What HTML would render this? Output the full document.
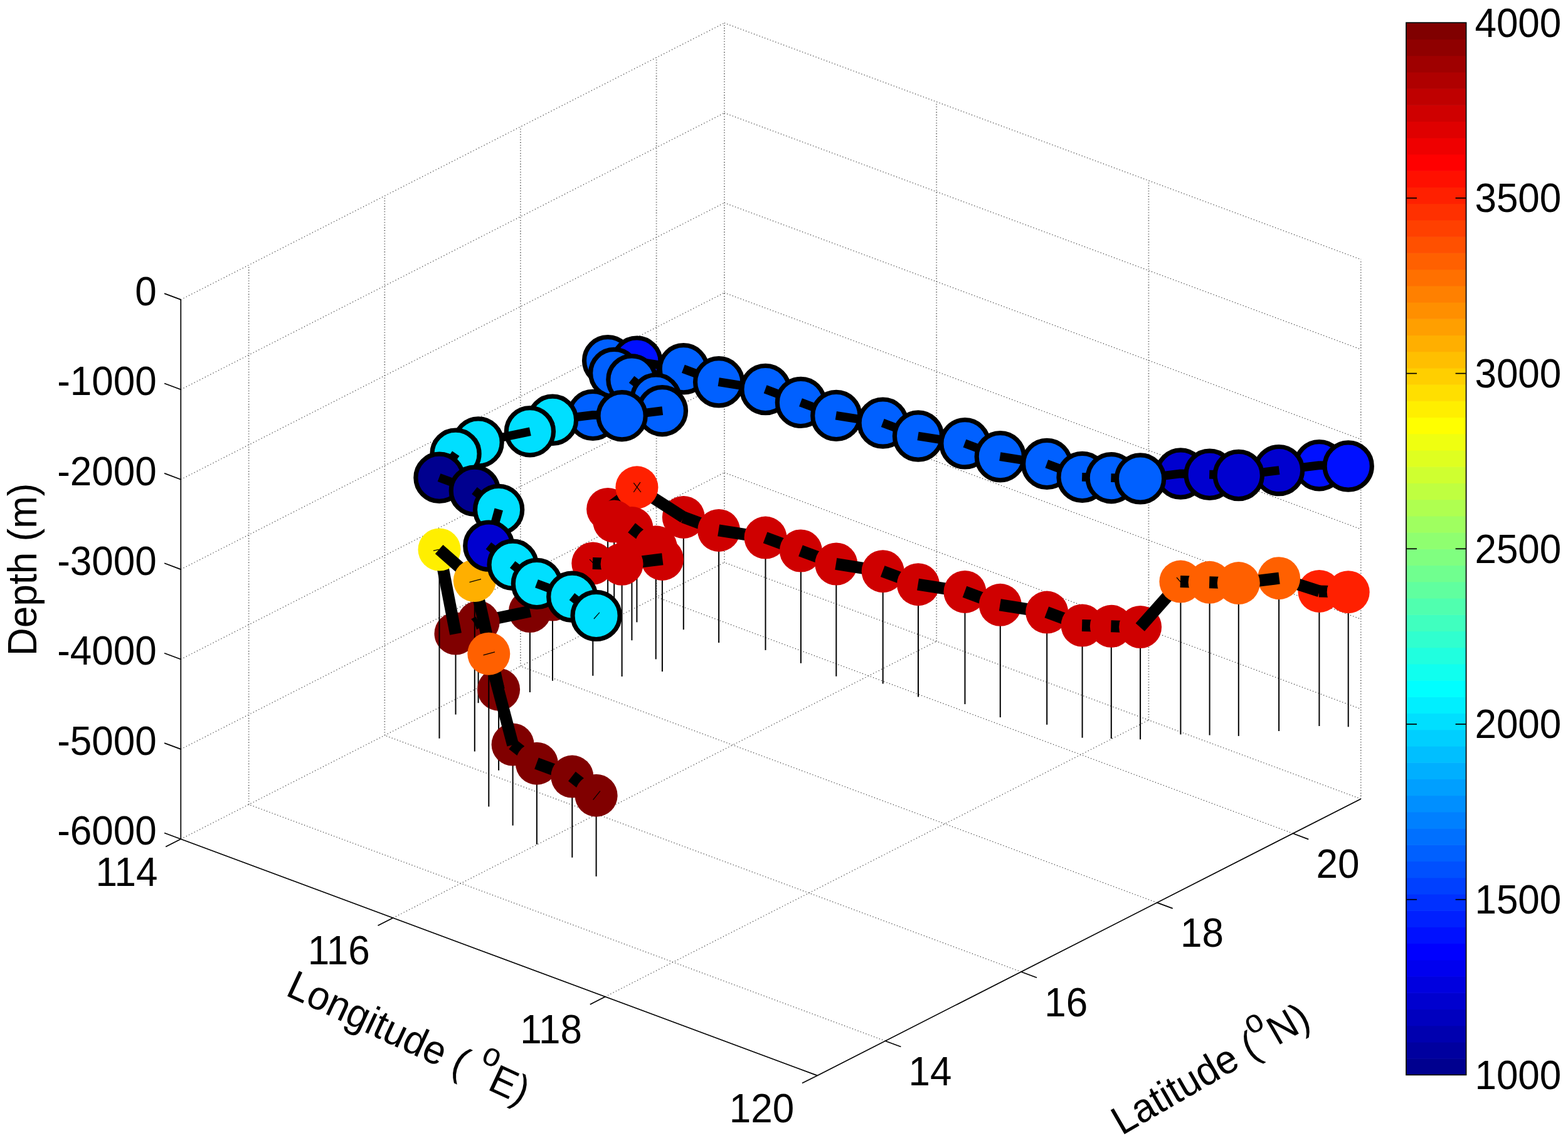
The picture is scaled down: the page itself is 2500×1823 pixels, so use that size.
<!DOCTYPE html>
<html lang="en"><head><meta charset="utf-8"><title>Depth trajectory plot</title>
<style>html,body{margin:0;padding:0;background:#fff}svg{display:block}text{font-family:"Liberation Sans",Arial,Helvetica,sans-serif;font-size:62px;fill:#000}.ax{stroke:#000;stroke-width:1.7;fill:none}.gv{stroke:#505050;stroke-width:1.8;fill:none;stroke-dasharray:1.05 3.23}.ga{stroke:#303030;stroke-width:1.3;fill:none;stroke-dasharray:1.1 3.47}.gb{stroke:#303030;stroke-width:1.3;fill:none;stroke-dasharray:1.1 3.70}.st{stroke:#000;stroke-width:2.0}.bar{stroke:#000;stroke-width:13.8;stroke-linecap:butt}.barl{stroke:#000;stroke-width:19.0;stroke-linecap:butt}.mu{stroke:#000;stroke-width:7.2}.mk{stroke:#000;stroke-width:1.2;fill:none}</style></head><body>
<svg xmlns="http://www.w3.org/2000/svg" width="2500" height="1823" viewBox="0 0 2500 1823">
<rect width="2500" height="1823" fill="#fff"/>
<g id="grid"><line x1="288.3" y1="1338.3" x2="1154.9" y2="897.1" class="gb"/><line x1="626.6" y1="1464.0" x2="1493.2" y2="1022.8" class="gb"/><line x1="964.8" y1="1589.7" x2="1831.4" y2="1148.5" class="gb"/><line x1="1411.4" y1="1660.2" x2="396.6" y2="1283.1" class="ga"/><line x1="1628.1" y1="1550.0" x2="613.3" y2="1172.8" class="ga"/><line x1="1844.7" y1="1439.7" x2="829.9" y2="1062.5" class="ga"/><line x1="2061.4" y1="1329.3" x2="1046.6" y2="952.2" class="ga"/><line x1="2169.7" y1="1274.2" x2="1154.9" y2="897.1" class="ga"/><line x1="396.6" y1="1283.1" x2="396.6" y2="422.7" class="gv"/><line x1="613.3" y1="1172.8" x2="613.3" y2="312.4" class="gv"/><line x1="829.9" y1="1062.5" x2="829.9" y2="202.1" class="gv"/><line x1="1046.6" y1="952.2" x2="1046.6" y2="91.8" class="gv"/><line x1="1154.9" y1="897.1" x2="1154.9" y2="36.7" class="gv"/><line x1="288.3" y1="1194.9" x2="1154.9" y2="753.7" class="gb"/><line x1="288.3" y1="1051.5" x2="1154.9" y2="610.3" class="gb"/><line x1="288.3" y1="908.1" x2="1154.9" y2="466.9" class="gb"/><line x1="288.3" y1="764.7" x2="1154.9" y2="323.5" class="gb"/><line x1="288.3" y1="621.3" x2="1154.9" y2="180.1" class="gb"/><line x1="288.3" y1="477.9" x2="1154.9" y2="36.7" class="gb"/><line x1="1493.2" y1="1022.8" x2="1493.2" y2="162.4" class="gv"/><line x1="1831.4" y1="1148.5" x2="1831.4" y2="288.1" class="gv"/><line x1="2169.7" y1="1274.2" x2="2169.7" y2="413.8" class="gv"/><line x1="1154.9" y1="753.7" x2="2169.7" y2="1130.8" class="ga"/><line x1="1154.9" y1="610.3" x2="2169.7" y2="987.4" class="ga"/><line x1="1154.9" y1="466.9" x2="2169.7" y2="844.0" class="ga"/><line x1="1154.9" y1="323.5" x2="2169.7" y2="700.6" class="ga"/><line x1="1154.9" y1="180.1" x2="2169.7" y2="557.2" class="ga"/><line x1="1154.9" y1="36.7" x2="2169.7" y2="413.8" class="ga"/></g>
<g id="data"><line x1="969.1" y1="811.9" x2="969.1" y2="991.2" class="st"/>
<line x1="1015.4" y1="777.3" x2="1015.4" y2="992.4" class="st"/>
<line x1="1089.8" y1="824.9" x2="1089.8" y2="1004.2" class="st"/>
<line x1="979.2" y1="831.6" x2="979.2" y2="1010.8" class="st"/>
<line x1="1007.4" y1="842.1" x2="1007.4" y2="1021.3" class="st"/>
<line x1="1146.1" y1="845.9" x2="1146.1" y2="1025.1" class="st"/>
<circle cx="969.1" cy="811.9" r="34.0" fill="#cf0000"/>
<line x1="1220.5" y1="857.6" x2="1220.5" y2="1036.9" class="st"/>
<line x1="968.76" y1="812.20" x2="1015.71" y2="777.08" class="barl"/>
<line x1="979.45" y1="831.99" x2="968.91" y2="811.53" class="barl"/>
<circle cx="1089.8" cy="824.9" r="34.0" fill="#cf0000"/>
<line x1="1014.98" y1="777.11" x2="1090.15" y2="825.18" class="barl"/>
<circle cx="1015.4" cy="777.3" r="34.0" fill="#ff2000"/>
<line x1="1045.7" y1="872.2" x2="1045.7" y2="1051.4" class="st"/>
<circle cx="979.2" cy="831.6" r="34.0" fill="#cf0000"/>
<line x1="1089.35" y1="824.78" x2="1146.55" y2="846.03" class="barl"/>
<line x1="1007.85" y1="842.22" x2="978.82" y2="831.44" class="barl"/>
<line x1="1276.9" y1="878.5" x2="1276.9" y2="1057.8" class="st"/>
<circle cx="1007.4" cy="842.1" r="34.0" fill="#cf0000"/>
<circle cx="1146.1" cy="845.9" r="34.0" fill="#cf0000"/>
<line x1="1055.9" y1="891.9" x2="1055.9" y2="1071.1" class="st"/>
<line x1="1145.69" y1="845.80" x2="1220.99" y2="857.68" class="barl"/>
<line x1="881.0" y1="956.6" x2="881.0" y2="1085.7" class="st"/>
<line x1="1046.08" y1="872.47" x2="1007.07" y2="841.78" class="barl"/>
<circle cx="1220.5" cy="857.6" r="34.0" fill="#cf0000"/>
<line x1="945.3" y1="898.5" x2="945.3" y2="1077.8" class="st"/>
<line x1="1333.3" y1="899.5" x2="1333.3" y2="1078.7" class="st"/>
<line x1="991.6" y1="899.8" x2="991.6" y2="1079.0" class="st"/>
<line x1="1220.13" y1="857.45" x2="1277.33" y2="878.70" class="barl"/>
<line x1="1407.7" y1="911.2" x2="1407.7" y2="1090.5" class="st"/>
<circle cx="1045.7" cy="872.2" r="34.0" fill="#cf0000"/>
<line x1="844.9" y1="975.0" x2="844.9" y2="1104.1" class="st"/>
<circle cx="1276.9" cy="878.5" r="34.0" fill="#cf0000"/>
<line x1="1056.06" y1="892.26" x2="1045.52" y2="871.79" class="barl"/>
<circle cx="881.0" cy="956.6" r="34.0" fill="#800000"/>
<line x1="1276.49" y1="878.39" x2="1333.69" y2="899.63" class="barl"/>
<line x1="762.6" y1="992.2" x2="762.6" y2="1121.2" class="st"/>
<line x1="880.70" y1="956.94" x2="945.66" y2="898.21" class="barl"/>
<line x1="1464.0" y1="932.2" x2="1464.0" y2="1111.4" class="st"/>
<circle cx="1055.9" cy="891.9" r="34.0" fill="#cf0000"/>
<line x1="844.52" y1="975.23" x2="881.44" y2="956.43" class="barl"/>
<line x1="991.12" y1="899.84" x2="1056.30" y2="891.80" class="barl"/>
<circle cx="945.3" cy="898.5" r="34.0" fill="#cf0000"/>
<line x1="944.88" y1="898.50" x2="992.01" y2="899.80" class="barl"/>
<circle cx="1333.3" cy="899.5" r="34.0" fill="#cf0000"/>
<circle cx="991.6" cy="899.8" r="34.0" fill="#cf0000"/>
<circle cx="844.9" cy="975.0" r="34.0" fill="#800000"/>
<line x1="1538.5" y1="943.9" x2="1538.5" y2="1123.1" class="st"/>
<line x1="1332.83" y1="899.41" x2="1408.13" y2="911.29" class="barl"/>
<line x1="726.5" y1="1010.5" x2="726.5" y2="1139.6" class="st"/>
<line x1="762.14" y1="992.25" x2="845.37" y2="974.94" class="barl"/>
<circle cx="1407.7" cy="911.2" r="34.0" fill="#cf0000"/>
<circle cx="762.6" cy="992.2" r="34.0" fill="#800000"/>
<circle cx="969.1" cy="575.3" r="37.6" fill="#0060ff" class="mu"/>
<line x1="968.67" y1="575.31" x2="1015.80" y2="576.60" class="bar"/>
<circle cx="1015.4" cy="576.6" r="37.6" fill="#0010ff" class="mu"/>
<line x1="1407.26" y1="911.06" x2="1464.47" y2="932.31" class="barl"/>
<line x1="1594.8" y1="964.8" x2="1594.8" y2="1144.1" class="st"/>
<line x1="1014.91" y1="576.52" x2="1090.22" y2="588.40" class="bar"/>
<line x1="726.07" y1="1010.75" x2="762.98" y2="991.95" class="barl"/>
<line x1="979.45" y1="595.38" x2="968.91" y2="574.92" class="bar"/>
<circle cx="1464.0" cy="932.2" r="34.0" fill="#cf0000"/>
<circle cx="1089.8" cy="588.3" r="37.6" fill="#0060ff" class="mu"/>
<line x1="1669.2" y1="976.6" x2="1669.2" y2="1155.8" class="st"/>
<circle cx="726.5" cy="1010.5" r="34.0" fill="#800000"/>
<line x1="1463.60" y1="932.08" x2="1538.91" y2="943.96" class="barl"/>
<circle cx="979.2" cy="595.0" r="37.6" fill="#0060ff" class="mu"/>
<line x1="1089.35" y1="588.17" x2="1146.55" y2="609.42" class="bar"/>
<circle cx="1538.5" cy="943.9" r="34.0" fill="#cf0000"/>
<line x1="1007.85" y1="605.61" x2="978.82" y2="594.83" class="bar"/>
<line x1="2103.4" y1="942.9" x2="2103.4" y2="1158.0" class="st"/>
<line x1="2149.7" y1="944.2" x2="2149.7" y2="1159.3" class="st"/>
<circle cx="1007.4" cy="605.5" r="37.6" fill="#0060ff" class="mu"/>
<circle cx="1146.1" cy="609.3" r="37.6" fill="#0060ff" class="mu"/>
<line x1="1538.04" y1="943.73" x2="1595.25" y2="964.98" class="barl"/>
<line x1="1725.6" y1="997.5" x2="1725.6" y2="1176.7" class="st"/>
<line x1="1771.8" y1="998.8" x2="1771.8" y2="1178.0" class="st"/>
<line x1="1818.1" y1="1000.0" x2="1818.1" y2="1179.3" class="st"/>
<line x1="1145.69" y1="609.19" x2="1220.99" y2="621.07" class="bar"/>
<line x1="2039.1" y1="922.2" x2="2039.1" y2="1166.0" class="st"/>
<line x1="1046.08" y1="635.86" x2="1007.07" y2="605.17" class="bar"/>
<circle cx="1594.8" cy="964.8" r="34.0" fill="#cf0000"/>
<circle cx="1220.5" cy="621.0" r="37.6" fill="#0060ff" class="mu"/>
<line x1="1882.4" y1="927.6" x2="1882.4" y2="1171.4" class="st"/>
<line x1="1928.6" y1="928.8" x2="1928.6" y2="1172.6" class="st"/>
<line x1="1974.8" y1="930.1" x2="1974.8" y2="1173.9" class="st"/>
<line x1="1594.38" y1="964.75" x2="1669.68" y2="976.63" class="barl"/>
<line x1="1220.13" y1="620.84" x2="1277.33" y2="642.09" class="bar"/>
<circle cx="1669.2" cy="976.6" r="34.0" fill="#cf0000"/>
<circle cx="1045.7" cy="635.6" r="37.6" fill="#0060ff" class="mu"/>
<line x1="700.5" y1="876.5" x2="700.5" y2="1177.7" class="st"/>
<circle cx="1276.9" cy="641.9" r="37.6" fill="#0060ff" class="mu"/>
<line x1="1668.82" y1="976.40" x2="1726.02" y2="997.65" class="barl"/>
<line x1="1056.06" y1="655.65" x2="1045.52" y2="635.18" class="bar"/>
<circle cx="2103.4" cy="942.9" r="34.0" fill="#ff2000"/>
<line x1="700.40" y1="876.09" x2="726.55" y2="1010.99" class="barl"/>
<line x1="2102.97" y1="942.93" x2="2150.10" y2="944.22" class="barl"/>
<circle cx="2149.7" cy="944.2" r="34.0" fill="#ff2000"/>
<line x1="1276.49" y1="641.78" x2="1333.69" y2="663.02" class="bar"/>
<line x1="795.1" y1="1099.7" x2="795.1" y2="1228.7" class="st"/>
<circle cx="1725.6" cy="997.5" r="34.0" fill="#cf0000"/>
<line x1="1725.15" y1="997.48" x2="1772.29" y2="998.78" class="barl"/>
<circle cx="1771.8" cy="998.8" r="34.0" fill="#cf0000"/>
<line x1="1771.39" y1="998.75" x2="1818.52" y2="1000.05" class="barl"/>
<circle cx="1055.9" cy="655.2" r="37.6" fill="#0060ff" class="mu"/>
<line x1="756.8" y1="926.1" x2="756.8" y2="1198.6" class="st"/>
<circle cx="1818.1" cy="1000.0" r="34.0" fill="#cf0000"/>
<line x1="991.12" y1="663.23" x2="1056.30" y2="655.19" class="bar"/>
<line x1="2038.70" y1="922.05" x2="2103.85" y2="943.08" class="barl"/>
<circle cx="945.3" cy="661.9" r="37.6" fill="#0060ff" class="mu"/>
<line x1="944.88" y1="661.89" x2="992.01" y2="663.19" class="bar"/>
<circle cx="1333.3" cy="662.9" r="37.6" fill="#0060ff" class="mu"/>
<circle cx="991.6" cy="663.2" r="37.6" fill="#0060ff" class="mu"/>
<line x1="880.59" y1="669.89" x2="945.77" y2="661.85" class="bar"/>
<line x1="1817.77" y1="1000.37" x2="1882.66" y2="927.24" class="barl"/>
<line x1="1332.83" y1="662.80" x2="1408.13" y2="674.68" class="bar"/>
<circle cx="881.0" cy="669.8" r="37.6" fill="#00dfff" class="mu"/>
<circle cx="2039.1" cy="922.2" r="34.0" fill="#ff6000"/>
<circle cx="1407.7" cy="674.6" r="37.6" fill="#0060ff" class="mu"/>
<line x1="1974.39" y1="930.17" x2="2039.57" y2="922.13" class="barl"/>
<circle cx="1882.4" cy="927.6" r="34.0" fill="#ff6000"/>
<line x1="1881.91" y1="927.56" x2="1929.05" y2="928.86" class="barl"/>
<circle cx="1928.6" cy="928.8" r="34.0" fill="#ff6000"/>
<line x1="844.52" y1="688.43" x2="881.44" y2="669.63" class="bar"/>
<line x1="1928.15" y1="928.83" x2="1975.29" y2="930.13" class="barl"/>
<circle cx="1974.8" cy="930.1" r="34.0" fill="#ff6000"/>
<circle cx="795.1" cy="1099.7" r="34.0" fill="#800000"/>
<line x1="1407.26" y1="674.45" x2="1464.47" y2="695.70" class="bar"/>
<circle cx="844.9" cy="688.2" r="37.6" fill="#00dfff" class="mu"/>
<circle cx="1464.0" cy="695.5" r="37.6" fill="#0060ff" class="mu"/>
<line x1="762.14" y1="705.45" x2="845.37" y2="688.14" class="bar"/>
<line x1="795.25" y1="1100.11" x2="756.75" y2="925.70" class="barl"/>
<line x1="1463.60" y1="695.47" x2="1538.91" y2="707.35" class="bar"/>
<circle cx="762.6" cy="705.4" r="37.6" fill="#00dfff" class="mu"/>
<circle cx="1538.5" cy="707.3" r="37.6" fill="#0060ff" class="mu"/>
<circle cx="700.5" cy="876.5" r="34.0" fill="#ffef00"/>
<line x1="757.18" y1="926.44" x2="700.14" y2="876.23" class="barl"/>
<line x1="726.07" y1="723.95" x2="762.98" y2="705.15" class="bar"/>
<circle cx="756.8" cy="926.1" r="34.0" fill="#ffaf00"/>
<line x1="1538.04" y1="707.12" x2="1595.25" y2="728.37" class="bar"/>
<circle cx="726.5" cy="723.7" r="37.6" fill="#00dfff" class="mu"/>
<circle cx="1594.8" cy="728.2" r="37.6" fill="#0060ff" class="mu"/>
<line x1="1594.38" y1="728.14" x2="1669.68" y2="740.02" class="bar"/>
<line x1="779.3" y1="1042.7" x2="779.3" y2="1286.5" class="st"/>
<line x1="779.17" y1="1042.25" x2="795.27" y2="1100.11" class="barl"/>
<circle cx="1669.2" cy="739.9" r="37.6" fill="#0060ff" class="mu"/>
<line x1="817.6" y1="1187.5" x2="817.6" y2="1316.6" class="st"/>
<circle cx="2103.4" cy="742.2" r="37.6" fill="#0010ff" class="mu"/>
<line x1="700.23" y1="762.18" x2="726.72" y2="723.38" class="bar"/>
<line x1="2102.97" y1="742.17" x2="2150.10" y2="743.46" class="bar"/>
<circle cx="2149.7" cy="743.5" r="37.6" fill="#0010ff" class="mu"/>
<line x1="2038.68" y1="750.16" x2="2103.86" y2="742.13" class="bar"/>
<circle cx="2039.1" cy="750.1" r="37.6" fill="#0000cf" class="mu"/>
<line x1="1668.82" y1="739.79" x2="1726.02" y2="761.04" class="bar"/>
<line x1="1974.39" y1="758.09" x2="2039.57" y2="750.05" class="bar"/>
<circle cx="1882.4" cy="755.5" r="37.6" fill="#0000cf" class="mu"/>
<line x1="1881.91" y1="755.48" x2="1929.05" y2="756.78" class="bar"/>
<circle cx="1928.6" cy="756.8" r="37.6" fill="#0000cf" class="mu"/>
<line x1="1928.15" y1="756.75" x2="1975.29" y2="758.05" class="bar"/>
<circle cx="1974.8" cy="758.0" r="37.6" fill="#0000cf" class="mu"/>
<line x1="1817.63" y1="763.48" x2="1882.81" y2="755.44" class="bar"/>
<circle cx="1725.6" cy="760.9" r="37.6" fill="#0060ff" class="mu"/>
<line x1="1725.15" y1="760.87" x2="1772.29" y2="762.17" class="bar"/>
<circle cx="700.5" cy="761.8" r="37.6" fill="#00008f" class="mu"/>
<circle cx="1771.8" cy="762.2" r="37.6" fill="#0060ff" class="mu"/>
<line x1="1771.39" y1="762.14" x2="1818.52" y2="763.44" class="bar"/>
<circle cx="1818.1" cy="763.4" r="37.6" fill="#0060ff" class="mu"/>
<circle cx="817.6" cy="1187.5" r="34.0" fill="#800000"/>
<line x1="855.9" y1="1217.7" x2="855.9" y2="1346.7" class="st"/>
<line x1="757.27" y1="782.90" x2="700.06" y2="761.65" class="bar"/>
<line x1="817.71" y1="1187.97" x2="779.17" y2="1042.24" class="barl"/>
<circle cx="756.8" cy="782.7" r="37.6" fill="#00008f" class="mu"/>
<line x1="856.25" y1="1217.94" x2="817.24" y2="1187.25" class="barl"/>
<line x1="912.3" y1="1238.6" x2="912.3" y2="1367.7" class="st"/>
<circle cx="779.3" cy="1042.7" r="34.0" fill="#ff6000"/>
<line x1="795.50" y1="813.15" x2="756.49" y2="782.46" class="bar"/>
<circle cx="855.9" cy="1217.7" r="34.0" fill="#800000"/>
<line x1="912.68" y1="1238.76" x2="855.48" y2="1217.51" class="barl"/>
<circle cx="795.1" cy="812.9" r="37.6" fill="#00dfff" class="mu"/>
<circle cx="912.3" cy="1238.6" r="34.0" fill="#800000"/>
<line x1="950.6" y1="1268.7" x2="950.6" y2="1397.8" class="st"/>
<line x1="950.92" y1="1269.01" x2="911.91" y2="1238.32" class="barl"/>
<line x1="779.17" y1="871.03" x2="795.27" y2="812.44" class="bar"/>
<circle cx="950.6" cy="1268.7" r="34.0" fill="#800000"/>
<circle cx="779.3" cy="870.6" r="37.6" fill="#0000cf" class="mu"/>
<line x1="817.95" y1="901.01" x2="778.93" y2="870.32" class="bar"/>
<circle cx="817.6" cy="900.7" r="37.6" fill="#00dfff" class="mu"/>
<line x1="856.25" y1="931.14" x2="817.24" y2="900.45" class="bar"/>
<circle cx="855.9" cy="930.9" r="37.6" fill="#00dfff" class="mu"/>
<line x1="912.68" y1="951.96" x2="855.48" y2="930.71" class="bar"/>
<circle cx="912.3" cy="951.8" r="37.6" fill="#00dfff" class="mu"/>
<line x1="950.92" y1="982.21" x2="911.91" y2="951.52" class="bar"/>
<circle cx="950.6" cy="981.9" r="37.6" fill="#00dfff" class="mu"/></g>
<g id="axes"><line x1="288.3" y1="477.9" x2="288.3" y2="1338.3" class="ax"/><line x1="288.3" y1="1338.3" x2="1303.1" y2="1715.4" class="ax"/><line x1="1303.1" y1="1715.4" x2="2169.7" y2="1274.2" class="ax"/><line x1="288.3" y1="1338.3" x2="262.1" y2="1328.5" class="ax"/><line x1="288.3" y1="1194.9" x2="262.1" y2="1185.1" class="ax"/><line x1="288.3" y1="1051.5" x2="262.1" y2="1041.7" class="ax"/><line x1="288.3" y1="908.1" x2="262.1" y2="898.3" class="ax"/><line x1="288.3" y1="764.7" x2="262.1" y2="754.9" class="ax"/><line x1="288.3" y1="621.3" x2="262.1" y2="611.5" class="ax"/><line x1="288.3" y1="477.9" x2="262.1" y2="468.1" class="ax"/><line x1="288.3" y1="1338.3" x2="264.2" y2="1350.5" class="ax"/><line x1="626.6" y1="1464.0" x2="602.5" y2="1476.2" class="ax"/><line x1="964.8" y1="1589.7" x2="940.8" y2="1601.9" class="ax"/><line x1="1303.1" y1="1715.4" x2="1279.0" y2="1727.6" class="ax"/><line x1="1411.4" y1="1660.2" x2="1436.4" y2="1669.5" class="ax"/><line x1="1628.1" y1="1550.0" x2="1653.0" y2="1559.2" class="ax"/><line x1="1844.7" y1="1439.6" x2="1869.7" y2="1448.9" class="ax"/><line x1="2061.4" y1="1329.3" x2="2086.3" y2="1338.6" class="ax"/></g>
<g id="colorbar"><rect x="2242.0" y="1688.18" width="95.6" height="26.82" fill="#00008f"/><rect x="2242.0" y="1661.96" width="95.6" height="26.82" fill="#00009f"/><rect x="2242.0" y="1635.73" width="95.6" height="26.82" fill="#0000af"/><rect x="2242.0" y="1609.51" width="95.6" height="26.82" fill="#0000bf"/><rect x="2242.0" y="1583.29" width="95.6" height="26.82" fill="#0000cf"/><rect x="2242.0" y="1557.07" width="95.6" height="26.82" fill="#0000df"/><rect x="2242.0" y="1530.85" width="95.6" height="26.82" fill="#0000ef"/><rect x="2242.0" y="1504.62" width="95.6" height="26.82" fill="#0000ff"/><rect x="2242.0" y="1478.40" width="95.6" height="26.82" fill="#0010ff"/><rect x="2242.0" y="1452.18" width="95.6" height="26.82" fill="#0020ff"/><rect x="2242.0" y="1425.96" width="95.6" height="26.82" fill="#0030ff"/><rect x="2242.0" y="1399.74" width="95.6" height="26.82" fill="#0040ff"/><rect x="2242.0" y="1373.52" width="95.6" height="26.82" fill="#0050ff"/><rect x="2242.0" y="1347.29" width="95.6" height="26.82" fill="#0060ff"/><rect x="2242.0" y="1321.07" width="95.6" height="26.82" fill="#0070ff"/><rect x="2242.0" y="1294.85" width="95.6" height="26.82" fill="#0080ff"/><rect x="2242.0" y="1268.63" width="95.6" height="26.82" fill="#008fff"/><rect x="2242.0" y="1242.41" width="95.6" height="26.82" fill="#009fff"/><rect x="2242.0" y="1216.18" width="95.6" height="26.82" fill="#00afff"/><rect x="2242.0" y="1189.96" width="95.6" height="26.82" fill="#00bfff"/><rect x="2242.0" y="1163.74" width="95.6" height="26.82" fill="#00cfff"/><rect x="2242.0" y="1137.52" width="95.6" height="26.82" fill="#00dfff"/><rect x="2242.0" y="1111.30" width="95.6" height="26.82" fill="#00efff"/><rect x="2242.0" y="1085.08" width="95.6" height="26.82" fill="#00ffff"/><rect x="2242.0" y="1058.85" width="95.6" height="26.82" fill="#10ffef"/><rect x="2242.0" y="1032.63" width="95.6" height="26.82" fill="#20ffdf"/><rect x="2242.0" y="1006.41" width="95.6" height="26.82" fill="#30ffcf"/><rect x="2242.0" y="980.19" width="95.6" height="26.82" fill="#40ffbf"/><rect x="2242.0" y="953.97" width="95.6" height="26.82" fill="#50ffaf"/><rect x="2242.0" y="927.74" width="95.6" height="26.82" fill="#60ff9f"/><rect x="2242.0" y="901.52" width="95.6" height="26.82" fill="#70ff8f"/><rect x="2242.0" y="875.30" width="95.6" height="26.82" fill="#80ff80"/><rect x="2242.0" y="849.08" width="95.6" height="26.82" fill="#8fff70"/><rect x="2242.0" y="822.86" width="95.6" height="26.82" fill="#9fff60"/><rect x="2242.0" y="796.63" width="95.6" height="26.82" fill="#afff50"/><rect x="2242.0" y="770.41" width="95.6" height="26.82" fill="#bfff40"/><rect x="2242.0" y="744.19" width="95.6" height="26.82" fill="#cfff30"/><rect x="2242.0" y="717.97" width="95.6" height="26.82" fill="#dfff20"/><rect x="2242.0" y="691.75" width="95.6" height="26.82" fill="#efff10"/><rect x="2242.0" y="665.53" width="95.6" height="26.82" fill="#ffff00"/><rect x="2242.0" y="639.30" width="95.6" height="26.82" fill="#ffef00"/><rect x="2242.0" y="613.08" width="95.6" height="26.82" fill="#ffdf00"/><rect x="2242.0" y="586.86" width="95.6" height="26.82" fill="#ffcf00"/><rect x="2242.0" y="560.64" width="95.6" height="26.82" fill="#ffbf00"/><rect x="2242.0" y="534.42" width="95.6" height="26.82" fill="#ffaf00"/><rect x="2242.0" y="508.19" width="95.6" height="26.82" fill="#ff9f00"/><rect x="2242.0" y="481.97" width="95.6" height="26.82" fill="#ff8f00"/><rect x="2242.0" y="455.75" width="95.6" height="26.82" fill="#ff8000"/><rect x="2242.0" y="429.53" width="95.6" height="26.82" fill="#ff7000"/><rect x="2242.0" y="403.31" width="95.6" height="26.82" fill="#ff6000"/><rect x="2242.0" y="377.08" width="95.6" height="26.82" fill="#ff5000"/><rect x="2242.0" y="350.86" width="95.6" height="26.82" fill="#ff4000"/><rect x="2242.0" y="324.64" width="95.6" height="26.82" fill="#ff3000"/><rect x="2242.0" y="298.42" width="95.6" height="26.82" fill="#ff2000"/><rect x="2242.0" y="272.20" width="95.6" height="26.82" fill="#ff1000"/><rect x="2242.0" y="245.98" width="95.6" height="26.82" fill="#ff0000"/><rect x="2242.0" y="219.75" width="95.6" height="26.82" fill="#ef0000"/><rect x="2242.0" y="193.53" width="95.6" height="26.82" fill="#df0000"/><rect x="2242.0" y="167.31" width="95.6" height="26.82" fill="#cf0000"/><rect x="2242.0" y="141.09" width="95.6" height="26.82" fill="#bf0000"/><rect x="2242.0" y="114.87" width="95.6" height="26.82" fill="#af0000"/><rect x="2242.0" y="88.64" width="95.6" height="26.82" fill="#9f0000"/><rect x="2242.0" y="62.42" width="95.6" height="26.82" fill="#8f0000"/><rect x="2242.0" y="36.20" width="95.6" height="26.82" fill="#800000"/><rect x="2242.0" y="36.2" width="95.6" height="1678.2" class="ax"/><line x1="2242.0" y1="1434.7" x2="2259.0" y2="1434.7" class="ax"/><line x1="2320.6" y1="1434.7" x2="2337.6" y2="1434.7" class="ax"/><line x1="2242.0" y1="1155.0" x2="2259.0" y2="1155.0" class="ax"/><line x1="2320.6" y1="1155.0" x2="2337.6" y2="1155.0" class="ax"/><line x1="2242.0" y1="875.3" x2="2259.0" y2="875.3" class="ax"/><line x1="2320.6" y1="875.3" x2="2337.6" y2="875.3" class="ax"/><line x1="2242.0" y1="595.6" x2="2259.0" y2="595.6" class="ax"/><line x1="2320.6" y1="595.6" x2="2337.6" y2="595.6" class="ax"/><line x1="2242.0" y1="315.9" x2="2259.0" y2="315.9" class="ax"/><line x1="2320.6" y1="315.9" x2="2337.6" y2="315.9" class="ax"/></g>
<g id="labels"><text transform="translate(249.8 1347.2) scale(1 1.04)" text-anchor="end">-6000</text>
<text transform="translate(249.8 1203.8) scale(1 1.04)" text-anchor="end">-5000</text>
<text transform="translate(249.8 1060.4) scale(1 1.04)" text-anchor="end">-4000</text>
<text transform="translate(249.8 917.0) scale(1 1.04)" text-anchor="end">-3000</text>
<text transform="translate(249.8 773.6) scale(1 1.04)" text-anchor="end">-2000</text>
<text transform="translate(249.8 630.2) scale(1 1.04)" text-anchor="end">-1000</text>
<text transform="translate(249.8 486.8) scale(1 1.04)" text-anchor="end">0</text>
<text transform="translate(251.4 1412.6) scale(1 1.04)" text-anchor="end">114</text>
<text transform="translate(589.7 1538.3) scale(1 1.04)" text-anchor="end">116</text>
<text transform="translate(928.0 1664.0) scale(1 1.04)" text-anchor="end">118</text>
<text transform="translate(1266.2 1789.7) scale(1 1.04)" text-anchor="end">120</text>
<text transform="translate(1448.6 1730.8) scale(1 1.04)">14</text>
<text transform="translate(1665.2 1620.5) scale(1 1.04)">16</text>
<text transform="translate(1881.9 1510.2) scale(1 1.04)">18</text>
<text transform="translate(2098.5 1399.9) scale(1 1.04)">20</text>
<text transform="translate(58.1 908.3) rotate(-90) scale(1 1.04)" text-anchor="middle">Depth (m)</text>
<text transform="translate(453.5 1586.5) rotate(25) scale(1 1.04)">Longitude ( <tspan font-size="50" dy="-34">o</tspan><tspan dy="34">E)</tspan></text>
<text transform="translate(1788.5 1811.4) rotate(-30) scale(1 1.04)">Latitude (<tspan font-size="50" dy="-34">o</tspan><tspan dy="34">N)</tspan></text>
<text transform="translate(2351.4 1736.8) scale(1 1.04)">1000</text>
<text transform="translate(2351.4 1457.1) scale(1 1.04)">1500</text>
<text transform="translate(2351.4 1177.4) scale(1 1.04)">2000</text>
<text transform="translate(2351.4 897.7) scale(1 1.04)">2500</text>
<text transform="translate(2351.4 618.0) scale(1 1.04)">3000</text>
<text transform="translate(2351.4 338.3) scale(1 1.04)">3500</text>
<text transform="translate(2351.4 58.6) scale(1 1.04)">4000</text></g>
<g id="marks" class="mk">
<line x1="1010.3" y1="770.2" x2="1021.9" y2="785.0"/>
<line x1="1020.9" y1="769.1" x2="1010.3" y2="785.0"/>
<line x1="946.9" y1="987.0" x2="955.9" y2="976.9"/>
<line x1="945.6" y1="1275.6" x2="956.9" y2="1261.6"/>
<line x1="748.5" y1="928.6" x2="767.0" y2="923.7"/>
<line x1="770.6" y1="1044.9" x2="788.9" y2="1039.8"/>
<line x1="691.0" y1="878.4" x2="699.7" y2="876.3"/>
<line x1="1876.0" y1="921.0" x2="1883.0" y2="929.0"/>
<line x1="940.0" y1="892.2" x2="946.3" y2="898.5"/>
</g>

</svg></body></html>
